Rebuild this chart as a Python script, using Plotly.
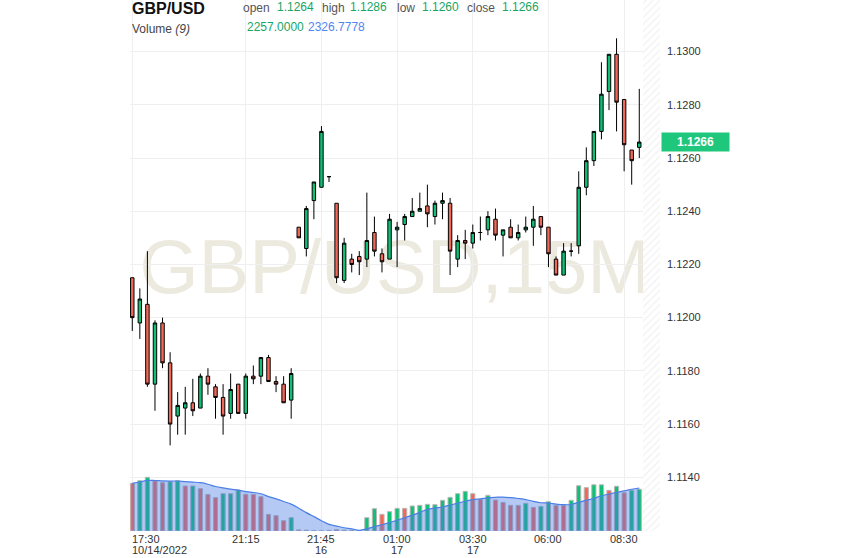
import plotly.graph_objects as go
import pandas as pd

# ---------------- data ----------------
opens = [1.1215, 1.1198, 1.1205, 1.1175, 1.1198, 1.1183, 1.1163, 1.1166, 1.1168, 1.1166,
         1.1178, 1.1174, 1.1170, 1.1164, 1.1175, 1.1164, 1.1178, 1.1178, 1.1185, 1.1176,
         1.1175, 1.1169, 1.1234, 1.1226, 1.1244, 1.1249, 1.1253, 1.1243, 1.1214, 1.1222,
         1.1223, 1.1222, 1.1232, 1.1224, 1.1222, 1.1233, 1.1235, 1.1238, 1.1240, 1.1242,
         1.1238, 1.1243, 1.1243, 1.1222, 1.1229, 1.1228, 1.1232, 1.1233, 1.1237, 1.1231,
         1.1234, 1.1230, 1.1233, 1.1234, 1.1238, 1.1234, 1.1222, 1.1216, 1.1225, 1.1227,
         1.1249, 1.1259, 1.1270, 1.1285, 1.1299, 1.1282, 1.1263, 1.1264]
highs = [1.1215, 1.1211, 1.1225, 1.1199, 1.1200, 1.1187, 1.1172, 1.1174, 1.1177, 1.1179,
         1.1181, 1.1175, 1.1175, 1.1179, 1.1175, 1.1179, 1.1182, 1.1185, 1.1186, 1.1178,
         1.1178, 1.1181, 1.1234, 1.1242, 1.1251, 1.1272, 1.1253, 1.1243, 1.1230, 1.1224,
         1.1225, 1.1247, 1.1238, 1.1226, 1.1239, 1.1236, 1.1239, 1.1245, 1.1247, 1.1250,
         1.1244, 1.1247, 1.1245, 1.1231, 1.1233, 1.1235, 1.1238, 1.1240, 1.1241, 1.1233,
         1.1237, 1.1235, 1.1238, 1.1242, 1.1238, 1.1234, 1.1223, 1.1228, 1.1228, 1.1255,
         1.1264, 1.1270, 1.1296, 1.1299, 1.1305, 1.1282, 1.1263, 1.1286]
lows = [1.1195, 1.1192, 1.1174, 1.1165, 1.1181, 1.1152, 1.1156, 1.1156, 1.1163, 1.1166,
        1.1171, 1.1162, 1.1156, 1.1162, 1.1164, 1.1162, 1.1175, 1.1175, 1.1176, 1.1172,
        1.1168, 1.1162, 1.1230, 1.1223, 1.1237, 1.1249, 1.1251, 1.1213, 1.1213, 1.1217,
        1.1216, 1.1219, 1.1223, 1.1217, 1.1222, 1.1219, 1.1229, 1.1238, 1.1240, 1.1234,
        1.1235, 1.1237, 1.1216, 1.1219, 1.1222, 1.1226, 1.1229, 1.1231, 1.1229, 1.1223,
        1.1230, 1.1229, 1.1232, 1.1227, 1.1231, 1.1219, 1.1216, 1.1216, 1.1223, 1.1224,
        1.1246, 1.1257, 1.1267, 1.1278, 1.1270, 1.1255, 1.1250, 1.1260]
closes = [1.1200, 1.1207, 1.1175, 1.1198, 1.1183, 1.1160, 1.1167, 1.1168, 1.1165, 1.1178,
          1.1175, 1.1170, 1.1163, 1.1173, 1.1164, 1.1178, 1.1177, 1.1185, 1.1176, 1.1175,
          1.1168, 1.1179, 1.1230, 1.1241, 1.1251, 1.1270, 1.1253, 1.1215, 1.1228, 1.1220,
          1.1221, 1.1229, 1.1225, 1.1221, 1.1237, 1.1234, 1.1238, 1.1240, 1.1241, 1.1239,
          1.1243, 1.1244, 1.1225, 1.1229, 1.1228, 1.1232, 1.1232, 1.1238, 1.1231, 1.1233,
          1.1230, 1.1232, 1.1234, 1.1237, 1.1234, 1.1224, 1.1216, 1.1225, 1.1225, 1.1249,
          1.1259, 1.1270, 1.1284, 1.1299, 1.1281, 1.1265, 1.1259, 1.1266]
volumes = [2580, 2722, 2905, 2722, 2614, 2668, 2722, 2435, 2435, 2290,
           1984, 1803, 2019, 2019, 2218, 1984, 1984, 1857, 902, 830,
           559, 721, 60, 45, 30, 15, 35, 80, 50, 25,
           10, 721, 1208, 902, 1046, 1226, 1226, 1353, 1389, 1443,
           1425, 1659, 1821, 2019, 2146, 2019, 1713, 1930, 1677, 1551,
           1389, 1389, 1497, 1280, 1335, 1587, 1389, 1389, 1659, 2450,
           2344, 2500, 2500, 2200, 2420, 2070, 2200, 2257]
vol_dir = ["d", "u", "u", "d", "d", "u", "u", "d", "u", "d",
           "d", "d", "u", "u", "u", "d", "d", "d", "d", "d",
           "d", "u", "d", "u", "u", "u", "u", "d", "u", "d",
           "d", "u", "u", "d", "u", "u", "d", "u", "u", "u",
           "u", "u", "u", "u", "u", "d", "d", "u", "d", "d",
           "d", "d", "u", "d", "u", "u", "d", "d", "u", "u",
           "d", "u", "u", "d", "u", "d", "u", "u"]
ma_period = 9
tick_idx = [0, 15, 25, 35, 45, 55, 65]
tick_time = ["17:30", "21:15", "21:45", "01:00", "03:30", "06:00", "08:30"]
tick_date = ["10/14/2022", "", "16", "17", "17", "", ""]
price_ticks = [1.1140, 1.1160, 1.1180, 1.1200, 1.1220, 1.1240, 1.1260, 1.1280, 1.1300]
symbol = "GBP/USD"
watermark = "GBP/USD,15M"

# ---------------- styling / layout constants ----------------
W, H = 843, 558
ML, MR, MT, MB = 130, 183, 0, 27
PW, PH = W - ML - MR, H - MT - MB
FONT = "Liberation Sans"
UP, DOWN = "#10c076", "#f26858"
HEAD_GREEN, HEAD_BLUE = "#19a463", "#4f86f0"
GRID = "#efefef"

n = len(closes)
x = list(range(n))
x_range = [-0.3, 69.74]
y_range = [1.11198, 1.13194]
vol_range = [0, 28727]

ma = pd.Series(volumes).rolling(ma_period, min_periods=1).mean()


def px_x(p):
    return (p - ML) / PW


def px_y(p):
    return (H - MB - p) / PH


fig = go.Figure()

# hatched "future" zone on the right
fig.add_trace(go.Bar(
    x=[(n - 0.5 + x_range[1]) / 2], y=[y_range[1] - y_range[0]], base=[y_range[0]],
    width=[x_range[1] - (n - 0.5)],
    marker=dict(color="white", line=dict(width=0),
                pattern=dict(shape="/", fgcolor="#e4e4e4", bgcolor="white", size=5, solidity=0.25)),
    hoverinfo="skip", showlegend=False, yaxis="y"))

# volume bars
fig.add_trace(go.Bar(
    x=x, y=volumes, yaxis="y2", width=0.55,
    marker=dict(color=[UP if d == "u" else DOWN for d in vol_dir],
                line=dict(color="#b8b8b8", width=1)),
    showlegend=False, hoverinfo="skip"))

# volume moving average area
fig.add_trace(go.Scatter(
    x=x, y=ma, yaxis="y2", mode="lines", line=dict(color="#4a7fe6", width=1.2, shape="spline"),
    fill="tozeroy", fillcolor="rgba(70,120,230,0.4)", showlegend=False, hoverinfo="skip"))

# candles
fig.add_trace(go.Candlestick(
    x=x, open=opens, high=highs, low=lows, close=closes,
    increasing=dict(fillcolor=UP, line=dict(color="black", width=1)),
    decreasing=dict(fillcolor=DOWN, line=dict(color="black", width=1)),
    whiskerwidth=0, showlegend=False, yaxis="y"))

annotations = []
# x-axis labels
for i, t, d in zip(tick_idx, tick_time, tick_date):
    anchor = "left" if i == tick_idx[0] else "center"
    xs = -2 if i == tick_idx[0] else 0
    annotations.append(dict(x=i, xref="x", y=px_y(539), yref="paper", text=t, showarrow=False,
                            xanchor=anchor, yanchor="middle", xshift=xs,
                            font=dict(family=FONT, size=11, color="#333")))
    if d:
        annotations.append(dict(x=i, xref="x", y=px_y(550), yref="paper", text=d, showarrow=False,
                                xanchor=anchor, yanchor="middle", xshift=xs,
                                font=dict(family=FONT, size=11, color="#333")))

# header
annotations.append(dict(x=px_x(130), y=px_y(8), xref="paper", yref="paper", text="<b>%s</b>" % symbol,
                        showarrow=False, xanchor="left", yanchor="middle",
                        font=dict(family=FONT, size=16, color="#111")))
labels = ["open", "high", "low", "close"]
vals = [opens[-1], highs[-1], lows[-1], closes[-1]]
lab_px = [241, 320, 395, 465]
val_px = [275, 348, 420, 500]
for lab, v, lx, vx in zip(labels, vals, lab_px, val_px):
    annotations.append(dict(x=px_x(lx), y=px_y(7.5), xref="paper", yref="paper", text=lab,
                            showarrow=False, xanchor="left", yanchor="middle",
                            font=dict(family=FONT, size=12, color="#555")))
    annotations.append(dict(x=px_x(vx), y=px_y(7), xref="paper", yref="paper", text="%.4f" % v,
                            showarrow=False, xanchor="left", yanchor="middle",
                            font=dict(family=FONT, size=12, color=HEAD_GREEN)))
annotations.append(dict(x=px_x(130), y=px_y(28.5), xref="paper", yref="paper",
                        text="Volume <i>(%d)</i>" % ma_period,
                        showarrow=False, xanchor="left", yanchor="middle",
                        font=dict(family=FONT, size=12, color="#444")))
annotations.append(dict(x=px_x(245), y=px_y(27), xref="paper", yref="paper",
                        text="%.4f" % volumes[-1],
                        showarrow=False, xanchor="left", yanchor="middle",
                        font=dict(family=FONT, size=12, color=HEAD_GREEN)))
annotations.append(dict(x=px_x(306), y=px_y(27), xref="paper", yref="paper",
                        text="%.4f" % ma.iloc[-1],
                        showarrow=False, xanchor="left", yanchor="middle",
                        font=dict(family=FONT, size=12, color=HEAD_BLUE)))

# last price badge
annotations.append(dict(x=1, xref="paper", y=closes[-1], yref="y", text="<b>%.4f</b>" % closes[-1],
                        showarrow=False, xanchor="left", yanchor="middle", xshift=1,
                        bgcolor="#1ec77b", width=63, height=14, borderpad=2,
                        font=dict(family=FONT, size=12, color="white")))

shapes = [dict(type="rect", xref="paper", yref="paper", x0=0, x1=1, y0=0.024, y1=1,
               layer="below", line=dict(width=0), fillcolor="rgba(0,0,0,0)",
               label=dict(text=watermark, textposition="middle center",
                          font=dict(family=FONT, size=76, color="#ece9df")))]

fig.update_layout(
    width=W, height=H,
    margin=dict(l=ML, r=MR, t=MT, b=MB),
    paper_bgcolor="white", plot_bgcolor="white",
    showlegend=False, barmode="overlay", boxgap=0.35,
    annotations=annotations, shapes=shapes,
    xaxis=dict(range=x_range, tickvals=tick_idx, showticklabels=False, showgrid=True,
               gridcolor=GRID, zeroline=False, showline=False, ticks="",
               rangeslider=dict(visible=False)),
    yaxis=dict(range=y_range, side="right", tickvals=price_ticks, tickformat=".4f",
               showgrid=True, gridcolor=GRID, zeroline=False, ticks="", showline=False,
               ticklabelstandoff=6,
               tickfont=dict(family=FONT, size=11, color="#333")),
    yaxis2=dict(range=vol_range, overlaying="y", visible=False, showgrid=False),
)

fig.write_html("out.html", config={"displayModeBar": False},
               post_script="document.body.style.margin='0';")
